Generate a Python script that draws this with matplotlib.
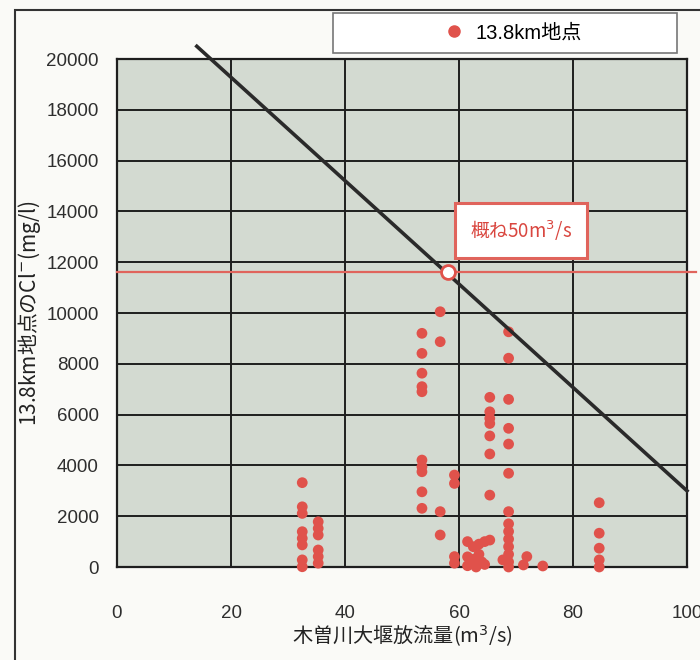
import numpy as np
import matplotlib
matplotlib.use("Agg")
import matplotlib.pyplot as plt
from matplotlib.patches import Rectangle
from matplotlib.lines import Line2D

plt.rcParams['font.family'] = ['Liberation Sans', 'Noto Sans CJK JP', 'DejaVu Sans']
jp = ['Noto Sans CJK JP', 'DejaVu Sans']

# discharge of Kiso river weir (m3/s) and Cl- at 13.8km point (mg/l)
flow = ([32.5] * 8 + [35.3] * 6 + [53.5] * 10 + [56.7] * 4 + [59.2] * 4
        + [61.5, 62.5, 63.5, 64.5, 61.5, 62.5, 63.5, 64.0, 61.5, 63.0, 64.5]
        + [65.4] * 8 + [68.7] * 14 + [67.7, 71.9, 71.3, 74.7] + [84.6] * 5)
cl = ([3320, 2370, 2110, 1390, 1130, 870, 280, 10]
      + [1780, 1520, 1260, 670, 410, 150]
      + [9200, 8410, 7630, 7100, 6900, 4210, 3950, 3750, 2960, 2310]
      + [10050, 8870, 2180, 1260]
      + [3620, 3290, 410, 150]
      + [1000, 800, 900, 1000, 400, 300, 500, 200, 50, 0, 100]
      + [1060, 2830, 4450, 5160, 5650, 5850, 6110, 6680]
      + [9260, 8220, 6600, 5460, 4840, 3690, 2180, 1700, 1400, 1100, 800, 500, 200, 0]
      + [280, 410, 80, 40]
      + [2530, 1330, 740, 280, 0])

trend_x = [14, 100]
trend_y = [20500, 3000]
limit_cl = 11600
cross_x = 58
xticks = [0, 20, 40, 60, 80, 100]
yticks = list(range(0, 20001, 2000))

red = '#e0524b'
fig = plt.figure(figsize=(7, 6.6), dpi=100, facecolor='#fafaf7')
ax = fig.add_axes([117 / 700, 93 / 660, 570 / 700, 508 / 660])
ax.set_facecolor('#d3dad1')

ax.scatter(flow, cl, s=60, color=red, edgecolors='none', zorder=3, clip_on=False)
ax.plot(trend_x, trend_y, color='#2a2a2a', lw=2.6, zorder=4, clip_on=False)
ax.plot([0, 101.5], [limit_cl, limit_cl], color='#e0645c', lw=1.6, zorder=4, clip_on=False)
ax.plot(cross_x, limit_cl, 'o', ms=10, mfc='white', mec=red, mew=2, zorder=5)
ax.text(70.9, 13250, '概ね50m$^3$/s', color='#d9463f', fontsize=13.5, ha='center', va='center',
        family=jp, zorder=6,
        bbox=dict(boxstyle='square,pad=0.8', fc='white', ec='#e0645c', lw=2.2))

ax.set_xlim(0, 100)
ax.set_ylim(0, 20000)
ax.set_xticks(xticks)
ax.set_yticks(yticks)
ax.grid(True, color='#1e1e1e', lw=1.4)
ax.set_axisbelow(True)
for s in ax.spines.values():
    s.set_color('#1e1e1e')
    s.set_linewidth(1.6)
ax.tick_params(length=0, labelsize=13.5, colors='#2e2e2e')
ax.tick_params(axis='x', pad=27)
ax.tick_params(axis='y', pad=13)

ax.set_xlabel('木曽川大堰放流量(m$^3$/s)', fontsize=14.5, color='#222222', family=jp)
ax.xaxis.set_label_coords(0.5, -0.136)
ax.xaxis.label.set_va('center')
ax.set_ylabel('13.8km地点のCl$^{-}$(mg/l)', fontsize=15, color='#222222', family=jp)
ax.yaxis.set_label_coords(-0.153, 0.5)
ax.yaxis.label.set_va('center')

# legend box at top
fig.patches.append(Rectangle((333 / 700, 1 - 53 / 660), 344 / 700, 40 / 660,
                             transform=fig.transFigure, fc='white', ec='#777777', lw=1.2))
handle = Line2D([], [], marker='o', ls='none', color=red, ms=8)
fig.legend([handle], ['13.8km地点'], loc='center', bbox_to_anchor=(508 / 700, 1 - 33 / 660),
           frameon=False, handletextpad=0.1,
           prop={'family': ['Liberation Sans', 'Noto Sans CJK JP', 'DejaVu Sans'], 'size': 14.5})

# scanned page frame
fig.patches.append(Rectangle((15 / 700, -0.01), 0.99, 1 - 10 / 660 + 0.01,
                             transform=fig.transFigure, fill=False, ec='#333333', lw=1.5))

fig.savefig('out.png', dpi=100, facecolor=fig.get_facecolor())
